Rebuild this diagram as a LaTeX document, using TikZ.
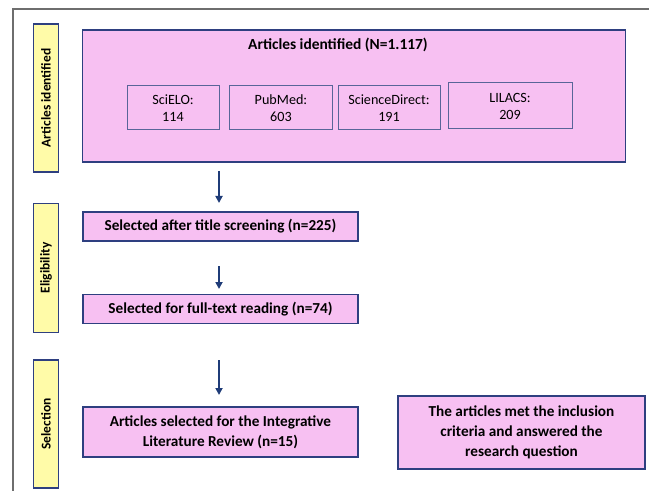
\documentclass[tikz,border=0pt]{standalone}
\usepackage{fontspec}
\setmainfont{Carlito}
\usetikzlibrary{arrows.meta}
\definecolor{pinkfill}{HTML}{F7C0F2}
\definecolor{yellowfill}{HTML}{FFFBA8}
\definecolor{navy}{HTML}{2E3F80}
\definecolor{arrowblue}{HTML}{1F3C78}
\definecolor{framegray}{HTML}{6E6E6E}
\tikzset{
  pinkbox/.style={draw=navy, line width=1.3bp, fill=pinkfill, inner sep=0pt, align=center,
    font=\fontsize{15.3}{20}\selectfont\bfseries},
  subbox/.style={draw=navy!80, line width=1bp, fill=pinkfill, inner sep=0pt, align=center,
    font=\fontsize{14.2}{17}\selectfont},
  sidelabel/.style={draw=navy, line width=1.3bp, fill=yellowfill, inner sep=0pt, rotate=90,
    font=\fontsize{13.5}{15}\selectfont\bfseries},
  flowarrow/.style={draw=arrowblue, line width=2bp, -{Triangle[length=7bp,width=7bp]}},
}
\begin{document}
\begin{tikzpicture}[x=1bp,y=-1bp]
\useasboundingbox (0,0) rectangle (649,491);
% outer frame
\draw[framegray, line width=2bp] (13,491) -- (13,9) -- (649,9);
% side labels
\node[sidelabel, minimum width=148bp, minimum height=25bp] (lab1) at (46,98) {Articles identified};
\node[sidelabel, minimum width=129bp, minimum height=25bp] (lab2) at (46,268) {Eligibility};
\node[sidelabel, minimum width=128bp, minimum height=25bp] (lab3) at (46,424) {Selection};
% identification box
\node[pinkbox, minimum width=543bp, minimum height=132bp] (big) at (354,96) {};
\node[font=\fontsize{15.5}{20}\selectfont\bfseries, inner sep=0pt] (title) at (338,45) {Articles identified (N=1.117)};
\node[subbox, minimum width=92bp, minimum height=44bp] (sci) at (173,108) {SciELO:\\114};
\node[subbox, minimum width=103bp, minimum height=44bp] (pub) at (281,108) {PubMed:\\603};
\node[subbox, minimum width=102bp, minimum height=44bp] (sd) at (389,108) {ScienceDirect:\\191};
\node[subbox, minimum width=124bp, minimum height=46bp] (lil) at (510,106) {LILACS:\\209};
% flow boxes
\node[pinkbox, minimum width=275bp, minimum height=29bp] (s1) at (220.5,226.5) {Selected after title screening (n=225)};
\node[pinkbox, minimum width=275bp, minimum height=29bp] (s2) at (220.5,309) {Selected for full-text reading (n=74)};
\node[pinkbox, minimum width=275bp, minimum height=50bp] (s3) at (220.5,432) {Articles selected for the Integrative\\Literature Review (n=15)};
\node[pinkbox, minimum width=247bp, minimum height=73bp] (s4) at (521.5,432.5) {The articles met the inclusion\\criteria and answered the\\research question};
% arrows
\coordinate (a1s) at (219,171);
\coordinate (a1e) at (219,203);
\coordinate (a2s) at (219,266);
\coordinate (a2e) at (219,289);
\coordinate (a3s) at (219,360);
\coordinate (a3e) at (219,395);
\draw[flowarrow] (a1s) -- (a1e);
\draw[flowarrow] (a2s) -- (a2e);
\draw[flowarrow] (a3s) -- (a3e);
\end{tikzpicture}
\end{document}
